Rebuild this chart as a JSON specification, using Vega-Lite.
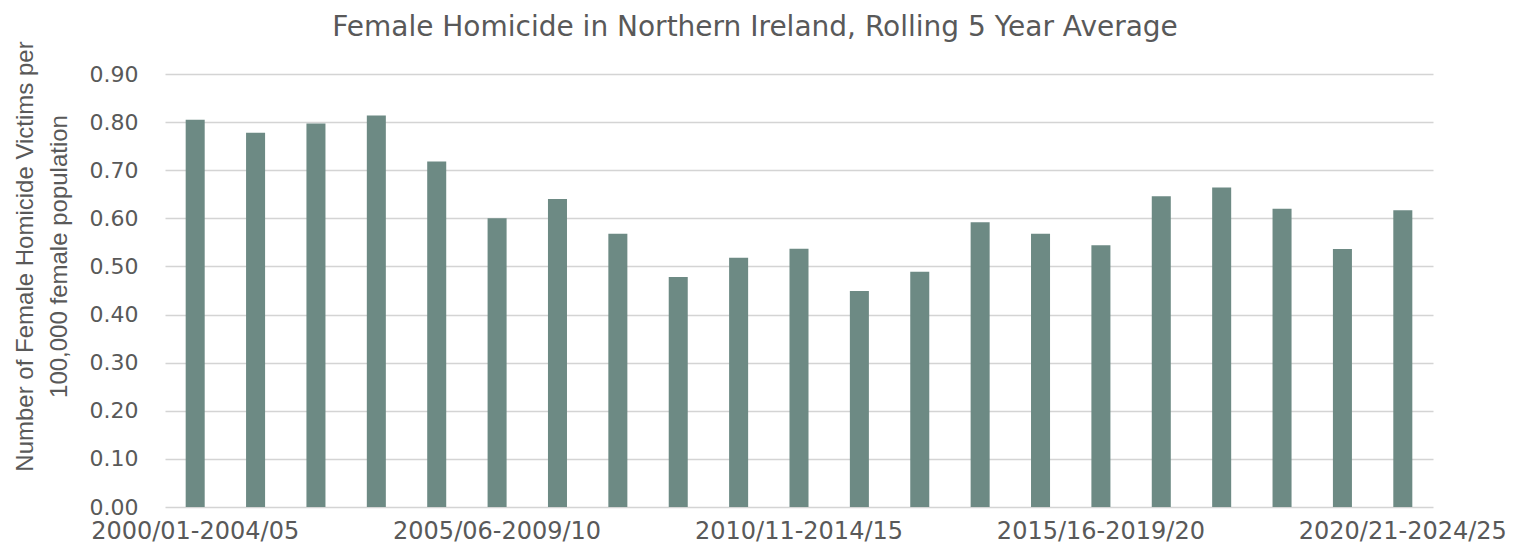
{
  "$schema": "https://vega.github.io/schema/vega-lite/v6.json",
  "autosize": "none",
  "width": 1268,
  "height": 433,
  "padding": {"left": 165, "top": 74, "right": 82, "bottom": 40},
  "background": "white",
  "title": {
    "text": "Female Homicide in Northern Ireland, Rolling 5 Year Average",
    "font": "DejaVu Sans",
    "fontSize": 28,
    "fontWeight": "normal",
    "color": "#595959",
    "anchor": "middle",
    "dx": -44,
    "offset": -1
  },
  "data": {
    "values": [
      {"period": "2000/01-2004/05", "rate": 0.805},
      {"period": "2001/02-2005/06", "rate": 0.778},
      {"period": "2002/03-2006/07", "rate": 0.797},
      {"period": "2003/04-2007/08", "rate": 0.814},
      {"period": "2004/05-2008/09", "rate": 0.718},
      {"period": "2005/06-2009/10", "rate": 0.600},
      {"period": "2006/07-2010/11", "rate": 0.640},
      {"period": "2007/08-2011/12", "rate": 0.568},
      {"period": "2008/09-2012/13", "rate": 0.478},
      {"period": "2009/10-2013/14", "rate": 0.518},
      {"period": "2010/11-2014/15", "rate": 0.537},
      {"period": "2011/12-2015/16", "rate": 0.449},
      {"period": "2012/13-2016/17", "rate": 0.489},
      {"period": "2013/14-2017/18", "rate": 0.592},
      {"period": "2014/15-2018/19", "rate": 0.568},
      {"period": "2015/16-2019/20", "rate": 0.544},
      {"period": "2016/17-2020/21", "rate": 0.646},
      {"period": "2017/18-2021/22", "rate": 0.664},
      {"period": "2018/19-2022/23", "rate": 0.620},
      {"period": "2019/20-2023/24", "rate": 0.536},
      {"period": "2020/21-2024/25", "rate": 0.617}
    ]
  },
  "mark": {"type": "bar", "color": "#6d8a84"},
  "encoding": {
    "x": {
      "field": "period",
      "type": "nominal",
      "sort": null,
      "scale": {"paddingInner": 0.685, "paddingOuter": 0.3425},
      "axis": {
        "title": null,
        "values": ["2000/01-2004/05", "2005/06-2009/10", "2010/11-2014/15", "2015/16-2019/20", "2020/21-2024/25"],
        "labelAngle": 0,
        "labelFont": "DejaVu Sans",
        "labelFontSize": 24,
        "labelColor": "#595959",
        "labelPadding": 12,
        "labelLimit": 0,
        "ticks": false,
        "domain": false,
        "grid": false,
        "labelOverlap": false
      }
    },
    "y": {
      "field": "rate",
      "type": "quantitative",
      "scale": {"domain": [0, 0.9], "nice": false},
      "axis": {
        "title": ["Number of Female Homicide Victims per", "100,000 female population"],
        "titleFont": "Liberation Sans",
        "titleFontSize": 24,
        "titleFontWeight": "normal",
        "titleColor": "#595959",
        "titleAngle": -90,
        "titleBaseline": "top",
        "titleAlign": "center",
        "titleX": -152,
        "titleY": 182,
        "titleLineHeight": 34,
        "values": [0, 0.1, 0.2, 0.3, 0.4, 0.5, 0.6, 0.7, 0.8, 0.9],
        "format": ".2f",
        "labelFont": "DejaVu Sans",
        "labelFontSize": 22,
        "labelColor": "#595959",
        "labelPadding": 27,
        "ticks": false,
        "domain": false,
        "grid": true,
        "gridColor": "#d4d4d4",
        "gridWidth": 1.5
      }
    }
  },
  "config": {"view": {"stroke": null}}
}
